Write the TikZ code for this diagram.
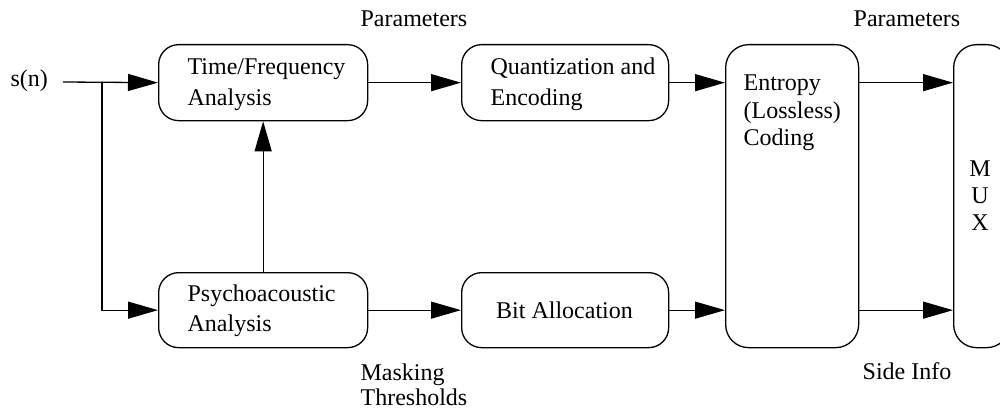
\documentclass[tikz,border=0pt]{standalone}
\usepackage{fontspec}
\setmainfont{Liberation Serif}
\usetikzlibrary{arrows.meta}

% multi-line text whose reference point is the baseline of its first line
\newcommand{\txtlines}[1]{\begin{tabular}[t]{@{}l@{}}#1\end{tabular}}

\begin{document}
\begin{tikzpicture}[x=1pt,y=-1pt,
  line width=1.3pt,
  block/.style={draw, rounded corners=20pt, inner sep=0pt, anchor=north west},
  tallblock/.style={block, rounded corners=23pt},
  lbl/.style={inner sep=0pt, anchor=base west, font=\fontsize{24}{31}\selectfont},
  arr/.style={-{Triangle[length=30pt,width=17pt]}}
]
\clip (0,0) rectangle (1000,409);

% processing blocks
\node[block, minimum width=209pt, minimum height=76pt] (tf)    at (158,44)  {};
\node[block, minimum width=207pt, minimum height=76pt] (quant) at (461,44)  {};
\node[block, minimum width=209pt, minimum height=75pt] (psy)   at (158,272) {};
\node[block, minimum width=207pt, minimum height=75pt] (bit)   at (461,272) {};
\node[tallblock, minimum width=133pt, minimum height=303pt] (ent) at (725,44) {};
\node[tallblock, minimum width=56pt, minimum height=303pt] (mux) at (953,44) {};

% block texts
\node[lbl] (tf-text)    at (187,75)  {\txtlines{Time/Frequency\\Analysis}};
\node[lbl] (quant-text) at (490,75)  {\txtlines{Quantization and\\Encoding}};
\node[lbl, font=\fontsize{24}{30}\selectfont] (psy-text) at (187,301) {\txtlines{Psychoacoustic\\Analysis}};
\node[lbl, anchor=base] (bit-text) at (564.5,318) {Bit Allocation};
\node[lbl, font=\fontsize{24}{27.5}\selectfont] (ent-text) at (743,91) {\txtlines{Entropy\\(Lossless)\\Coding}};
\node[lbl, anchor=base, font=\fontsize{24}{27}\selectfont] (mux-text) at (980,176)
  {\begin{tabular}[t]{@{}c@{}}M\\U\\X\end{tabular}};

% signal labels
\node[lbl] (sn)      at (10,87)  {s(n)};
\node[lbl] (par1)    at (360,27) {Parameters};
\node[lbl] (par2)    at (853,27) {Parameters};
\node[lbl, font=\fontsize{24}{25.5}\selectfont] (mask) at (360,380) {\txtlines{Masking\\Thresholds}};
\node[lbl] (side)    at (862,379) {Side Info};

% input and branch point
\coordinate (src) at (63,82);
\coordinate (j)   at (102,82);

% connectors
\draw[arr] (src) -- (tf.west);
\draw[arr] (j) |- (psy.west);
\draw[arr] (psy.north) -- (tf.south);
\draw[arr] (tf.east) -- (quant.west);
\draw[arr] (psy.east) -- (bit.west);
\draw[arr] (quant.east) -- (quant.east -| ent.west);
\draw[arr] (bit.east) -- (bit.east -| ent.west);
\draw[arr] (ent.east |- quant.east) -- (mux.west |- quant.east);
\draw[arr] (ent.east |- bit.east) -- (mux.west |- bit.east);
\end{tikzpicture}
\end{document}
